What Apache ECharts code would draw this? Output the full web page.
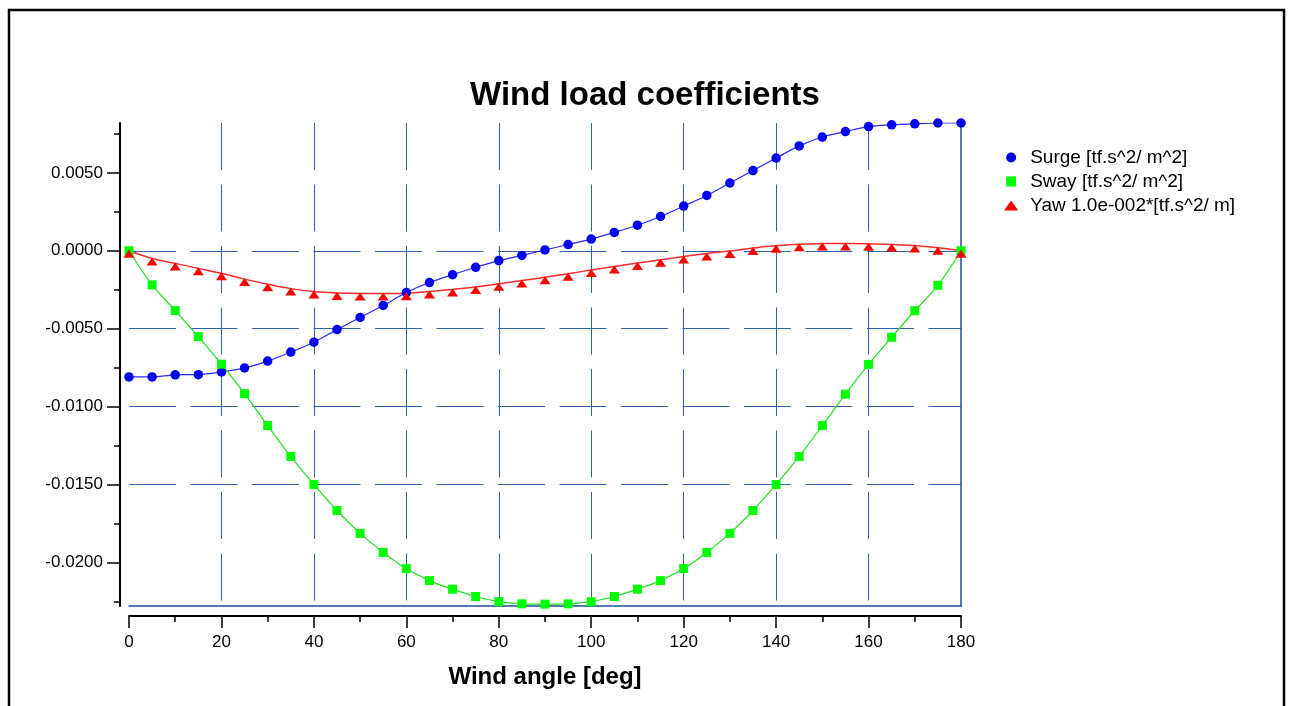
<!DOCTYPE html>
<html>
<head>
<meta charset="utf-8">
<script src="https://cdn.jsdelivr.net/npm/echarts@6/dist/echarts.min.js"></script>
<style>
html,body{margin:0;padding:0;background:#fff;}
#chart{width:1290px;height:706px;}
</style>
</head>
<body>
<div id="chart"></div>
<script>
var angles = [0,5,10,15,20,25,30,35,40,45,50,55,60,65,70,75,80,85,90,95,100,105,110,115,120,125,130,135,140,145,150,155,160,165,170,175,180];
var surge = [-0.00810,-0.00810,-0.00796,-0.00795,-0.00778,-0.00752,-0.00708,-0.00650,-0.00587,-0.00506,-0.00428,-0.00351,-0.00268,-0.00204,-0.00154,-0.00106,-0.00063,-0.00030,0.00005,0.00040,0.00075,0.00118,0.00164,0.00220,0.00287,0.00355,0.00435,0.00515,0.00595,0.00673,0.00730,0.00765,0.00797,0.00808,0.00815,0.00820,0.00820];
var sway = [0.00000,-0.00219,-0.00384,-0.00551,-0.00728,-0.00917,-0.01122,-0.01320,-0.01500,-0.01667,-0.01814,-0.01936,-0.02040,-0.02117,-0.02172,-0.02219,-0.02252,-0.02266,-0.02268,-0.02266,-0.02252,-0.02219,-0.02172,-0.02117,-0.02040,-0.01936,-0.01814,-0.01667,-0.01500,-0.01320,-0.01122,-0.00920,-0.00729,-0.00555,-0.00385,-0.00222,0.00000];
var yaw = [0.00000,-0.00049,-0.00081,-0.00113,-0.00145,-0.00182,-0.00215,-0.00243,-0.00262,-0.00271,-0.00274,-0.00274,-0.00272,-0.00262,-0.00248,-0.00232,-0.00212,-0.00191,-0.00170,-0.00147,-0.00124,-0.00101,-0.00079,-0.00058,-0.00037,-0.00017,-0.00002,0.00018,0.00032,0.00042,0.00046,0.00047,0.00045,0.00040,0.00033,0.00019,0.00000];
var seriesNames = ['Surge [tf.s^2/ m^2]', 'Sway [tf.s^2/ m^2]', 'Yaw 1.0e-002*[tf.s^2/ m]'];
var yTicks = [-0.02, -0.015, -0.01, -0.005, 0, 0.005];
var yMin = -0.0228, yMax = 0.0082;
var xMin = 0, xMax = 180, xStep = 20;

function pairs(ys){ return angles.map(function(a,i){ return [a, ys[i]]; }); }

var FONT = "'Liberation Sans', Arial, sans-serif";
var GRID_COLOR = '#2d63a8';
var EDGE_COLOR = '#1c4f96';

var chart = echarts.init(document.getElementById('chart'), null, {renderer:'canvas'});
chart.setOption({
  animation: false,
  backgroundColor: '#ffffff',
  graphic: [{
    type: 'rect', left: 6.5, top: 7.5, z: 100,
    shape: {x: 0, y: 0, width: 1275, height: 740},
    style: {fill: 'none', stroke: '#000', lineWidth: 2.5}
  }],
  title: {
    text: 'Wind load coefficients',
    left: 'center', top: 74,
    textStyle: {fontFamily: FONT, fontSize: 33, fontWeight: 'bold', color: '#000'}
  },
  legend: {
    orient: 'vertical', left: 999, top: 143,
    itemWidth: 28, itemHeight: 10, itemGap: 5,
    textStyle: {fontFamily: FONT, fontSize: 19, color: '#000', lineHeight: 18},
    data: [
      {name: seriesNames[0], icon: 'circle'},
      {name: seriesNames[1], icon: 'path://M0,0L10,0L10,10L0,10Z'},
      {name: seriesNames[2], icon: 'path://M0,7L5,0L10,7Z'}
    ]
  },
  grid: {left: 129, right: 329, top: 123, bottom: 100, containLabel: false},
  xAxis: [{
    type: 'value', min: xMin, max: xMax, interval: xStep, position: 'bottom', offset: 10,
    axisLine: {show: true, onZero: false, lineStyle: {color: '#000', width: 2}},
    axisTick: {show: true, length: 12, lineStyle: {color: '#000', width: 1.5}},
    minorTick: {show: true, splitNumber: 2, length: 6, lineStyle: {color: '#000', width: 1.5}},
    axisLabel: {fontFamily: FONT, fontSize: 17, color: '#000', margin: 18},
    splitLine: {show: true, showMinLine: false, showMaxLine: false,
      lineStyle: {color: GRID_COLOR, width: 1, type: [47, 14.5]}},
    name: 'Wind angle [deg]', nameLocation: 'middle', nameGap: 49,
    nameTextStyle: {fontFamily: FONT, fontSize: 24, fontWeight: 'bold', color: '#000'}
  }, {
    type: 'value', min: xMin, max: xMax, position: 'bottom', offset: 0,
    axisLine: {show: true, onZero: false, lineStyle: {color: EDGE_COLOR, width: 1.5}},
    axisTick: {show: false}, axisLabel: {show: false}, splitLine: {show: false}
  }],
  yAxis: [{
    type: 'value', min: yMin, max: yMax, position: 'left', offset: 9,
    axisLine: {show: true, onZero: false, lineStyle: {color: '#000', width: 2}},
    axisTick: {show: true, length: 13, customValues: yTicks, lineStyle: {color: '#000', width: 1.5}},
    minorTick: {show: true, splitNumber: 2, length: 6, lineStyle: {color: '#000', width: 1.5}},
    axisLabel: {fontFamily: FONT, fontSize: 17, color: '#000', margin: 17, customValues: yTicks,
      formatter: function(v){ return v.toFixed(4); }},
    splitLine: {show: true, showMinLine: false, showMaxLine: false,
      lineStyle: {color: GRID_COLOR, width: 1, type: [47, 14.5]}}
  }, {
    type: 'value', min: yMin, max: yMax, position: 'right', offset: 0,
    axisLine: {show: true, onZero: false, lineStyle: {color: EDGE_COLOR, width: 1.5}},
    axisTick: {show: false}, axisLabel: {show: false}, splitLine: {show: false}
  }],
  series: [{
    name: seriesNames[0], type: 'line', xAxisIndex: 0, yAxisIndex: 0,
    data: pairs(surge), smooth: 0.3,
    symbol: 'circle', symbolSize: 9.5,
    lineStyle: {color: '#2a2aff', width: 1.2},
    itemStyle: {color: '#0000f0'}
  }, {
    name: seriesNames[1], type: 'line', xAxisIndex: 0, yAxisIndex: 0,
    data: pairs(sway), smooth: 0.3,
    symbol: 'rect', symbolSize: 9,
    lineStyle: {color: '#22e022', width: 1.2},
    itemStyle: {color: '#00ff00'}
  }, {
    name: seriesNames[2], type: 'line', xAxisIndex: 0, yAxisIndex: 0,
    data: pairs(yaw), smooth: 0.4,
    symbol: 'triangle', symbolSize: [11, 8], symbolOffset: [0, 3],
    lineStyle: {color: '#ff2a2a', width: 1.5},
    itemStyle: {color: '#ff0000'}
  }]
});
</script>
</body>
</html>
